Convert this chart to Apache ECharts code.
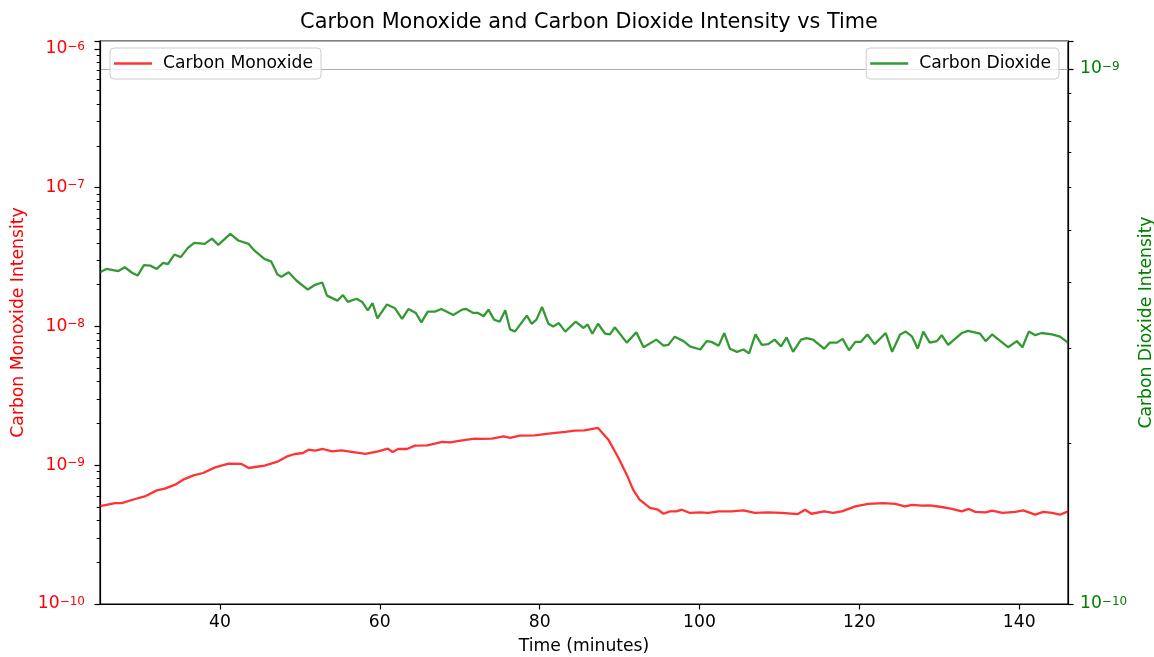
<!DOCTYPE html>
<html>
<head>
<meta charset="utf-8">
<script src="https://cdn.jsdelivr.net/npm/echarts@6/dist/echarts.min.js"></script>
<style>html,body{margin:0;padding:0;background:#fff}#c{width:1154px;height:657px}</style>
</head>
<body>
<div id="c"></div>
<script>
const coTime = [25.0,26.9,27.7,29.4,30.6,32.1,33.1,34.4,35.4,36.7,37.9,39.4,41.1,42.7,43.6,44.4,45.6,47.3,48.4,49.4,50.4,51.1,51.9,52.9,54.0,55.2,56.9,58.2,59.8,61.0,61.6,62.3,63.4,64.4,65.9,66.9,67.8,68.8,70.3,71.9,72.8,74.0,75.5,76.3,77.5,79.4,81.1,83.2,84.4,85.6,87.3,87.5,88.6,89.8,90.9,91.7,92.5,93.8,94.8,95.5,96.3,97.1,97.8,98.8,100.1,101.1,102.4,104.0,105.5,106.9,108.6,110.3,112.3,113.2,114.0,115.6,116.7,117.8,119.5,121.1,123.0,124.5,125.7,126.6,127.8,128.8,130.3,131.6,132.8,133.7,134.5,135.8,136.6,137.9,139.5,140.5,142.0,143.0,144.1,145.1,146.1];
const coValues = [5.08e-10,5.34e-10,5.34e-10,5.71e-10,5.96e-10,6.59e-10,6.78e-10,7.24e-10,7.87e-10,8.45e-10,8.79e-10,9.65e-10,1.026e-9,1.021e-9,9.55e-10,9.71e-10,9.93e-10,1.066e-9,1.158e-9,1.205e-9,1.225e-9,1.294e-9,1.273e-9,1.309e-9,1.258e-9,1.279e-9,1.238e-9,1.205e-9,1.258e-9,1.316e-9,1.246e-9,1.309e-9,1.309e-9,1.383e-9,1.390e-9,1.430e-9,1.471e-9,1.461e-9,1.511e-9,1.554e-9,1.547e-9,1.554e-9,1.614e-9,1.572e-9,1.633e-9,1.641e-9,1.688e-9,1.736e-9,1.774e-9,1.782e-9,1.855e-9,1.824e-9,1.528e-9,1.147e-9,8.55e-10,6.66e-10,5.65e-10,4.92e-10,4.78e-10,4.47e-10,4.65e-10,4.65e-10,4.78e-10,4.53e-10,4.57e-10,4.53e-10,4.65e-10,4.65e-10,4.73e-10,4.53e-10,4.57e-10,4.53e-10,4.45e-10,4.78e-10,4.47e-10,4.65e-10,4.53e-10,4.65e-10,5.05e-10,5.26e-10,5.34e-10,5.26e-10,5.05e-10,5.18e-10,5.11e-10,5.13e-10,5.00e-10,4.84e-10,4.65e-10,4.84e-10,4.61e-10,4.57e-10,4.70e-10,4.53e-10,4.61e-10,4.73e-10,4.40e-10,4.61e-10,4.53e-10,4.40e-10,4.65e-10];
const co2Time = [25.0,25.8,27.3,28.1,29.0,29.7,30.5,31.3,32.1,32.9,33.5,34.3,35.1,36.0,36.8,38.1,39.0,39.8,41.3,42.3,43.6,44.3,45.6,46.4,47.2,47.7,48.6,49.6,51.0,51.9,52.8,53.4,54.7,55.4,56.0,57.1,57.8,58.5,59.1,59.7,60.9,61.9,62.8,63.6,64.5,65.2,66.0,66.9,67.7,69.2,70.3,70.8,71.7,72.3,73.0,73.6,74.3,75.0,75.7,76.3,76.9,78.4,79.0,79.6,80.3,81.1,81.7,82.4,83.2,84.5,85.5,86.0,86.6,87.3,88.2,88.8,89.4,90.9,92.1,93.0,94.6,95.5,96.1,96.9,98.0,98.8,100.1,100.9,101.5,102.4,103.1,103.8,104.7,105.5,106.2,107.0,107.8,108.6,109.4,110.2,110.9,111.7,112.7,113.4,114.2,115.6,116.3,117.2,117.9,118.7,119.5,120.2,121.0,121.9,123.3,124.1,125.1,125.8,126.6,127.3,128.0,128.8,129.7,130.3,131.1,132.8,133.6,135.1,135.8,136.6,137.3,138.6,139.7,140.4,141.2,142.0,142.8,144.1,145.1,146.1];
const co2Values = [4.17e-10,4.23e-10,4.19e-10,4.26e-10,4.16e-10,4.11e-10,4.30e-10,4.29e-10,4.23e-10,4.34e-10,4.32e-10,4.50e-10,4.45e-10,4.63e-10,4.73e-10,4.71e-10,4.82e-10,4.69e-10,4.92e-10,4.78e-10,4.71e-10,4.58e-10,4.41e-10,4.37e-10,4.13e-10,4.09e-10,4.17e-10,4.02e-10,3.87e-10,3.95e-10,3.99e-10,3.77e-10,3.69e-10,3.78e-10,3.67e-10,3.72e-10,3.67e-10,3.54e-10,3.65e-10,3.42e-10,3.63e-10,3.57e-10,3.41e-10,3.56e-10,3.50e-10,3.36e-10,3.52e-10,3.52e-10,3.56e-10,3.47e-10,3.55e-10,3.56e-10,3.50e-10,3.50e-10,3.45e-10,3.55e-10,3.40e-10,3.37e-10,3.54e-10,3.26e-10,3.23e-10,3.46e-10,3.34e-10,3.40e-10,3.59e-10,3.34e-10,3.30e-10,3.35e-10,3.23e-10,3.37e-10,3.28e-10,3.33e-10,3.20e-10,3.34e-10,3.20e-10,3.19e-10,3.29e-10,3.08e-10,3.22e-10,3.02e-10,3.12e-10,3.04e-10,3.05e-10,3.16e-10,3.10e-10,3.03e-10,2.99e-10,3.10e-10,3.09e-10,3.04e-10,3.21e-10,3.00e-10,2.96e-10,2.99e-10,2.94e-10,3.19e-10,3.05e-10,3.06e-10,3.12e-10,3.03e-10,3.15e-10,2.96e-10,3.12e-10,3.14e-10,3.12e-10,3.00e-10,3.08e-10,3.08e-10,3.13e-10,2.98e-10,3.09e-10,3.09e-10,3.19e-10,3.06e-10,3.21e-10,2.96e-10,3.19e-10,3.23e-10,3.16e-10,3.00e-10,3.23e-10,3.08e-10,3.10e-10,3.18e-10,3.05e-10,3.21e-10,3.24e-10,3.20e-10,3.10e-10,3.19e-10,3.13e-10,3.02e-10,3.10e-10,3.02e-10,3.23e-10,3.18e-10,3.21e-10,3.19e-10,3.16e-10,3.08e-10];
const xTicks = [40, 60, 80, 100, 120, 140];

const FONT = 'DejaVu Sans';
const FS = 17.2;
const chart = echarts.init(document.getElementById('c'), null, {renderer: 'canvas'});

function powLabel(v) {
  const e = Math.log10(v);
  const r = Math.round(e);
  if (Math.abs(e - r) > 1e-6) return '';
  return '{b|10}{s|' + (r < 0 ? '\u2212' : '') + Math.abs(r) + '}';
}
function rich(color) {
  return {
    b: {fontSize: FS, fontFamily: FONT, color: color, verticalAlign: 'bottom'},
    s: {fontSize: 12, fontFamily: FONT, color: color, verticalAlign: 'top'}
  };
}

const option = {
  animation: false,
  backgroundColor: '#ffffff',
  title: {
    text: 'Carbon Monoxide and Carbon Dioxide Intensity vs Time',
    left: 584, top: 7, textAlign: 'center',
    textStyle: {fontFamily: FONT, fontSize: 20.8, fontWeight: 'normal', color: '#000'}
  },
  grid: {left: 100, right: 86, top: 41, bottom: 53, show: true, borderColor: '#000', borderWidth: 1.2, backgroundColor: 'transparent', containLabel: false, outerBoundsMode: 'none'},
  legend: [
    {
      data: ['Carbon Monoxide'], left: 110, top: 48,
      padding: [7, 8, 7, 4], itemWidth: 38, itemHeight: 2.5, icon: 'rect',
      backgroundColor: 'rgba(255,255,255,0.8)', borderColor: '#cccccc', borderWidth: 1, borderRadius: 4,
      textStyle: {fontFamily: FONT, fontSize: FS, color: '#000', padding: [0, 0, 0, 6]}
    },
    {
      data: ['Carbon Dioxide'], right: 95, top: 48,
      padding: [7, 8, 7, 4], itemWidth: 38, itemHeight: 2.5, icon: 'rect',
      backgroundColor: 'rgba(255,255,255,0.8)', borderColor: '#cccccc', borderWidth: 1, borderRadius: 4,
      textStyle: {fontFamily: FONT, fontSize: FS, color: '#000', padding: [0, 0, 0, 6]}
    }
  ],
  xAxis: {
    type: 'value', min: 25, max: 146.1,
    name: 'Time (minutes)', nameLocation: 'middle', nameGap: 34,
    nameTextStyle: {fontFamily: FONT, fontSize: FS, color: '#000'},
    axisLine: {show: true, lineStyle: {color: '#000', width: 1.2}},
    axisTick: {show: true, length: 5.5, lineStyle: {color: '#000', width: 1.2}, customValues: xTicks},
    axisLabel: {fontFamily: FONT, fontSize: FS, color: '#000', margin: 10, customValues: xTicks},
    splitLine: {show: false}
  },
  yAxis: [
    {
      type: 'log', logBase: 10, min: 1e-10, max: 1.14e-6, position: 'left',
      name: 'Carbon Monoxide Intensity', nameLocation: 'middle', nameRotate: 90, nameGap: 73,
      nameTextStyle: {fontFamily: FONT, fontSize: FS, color: 'red'},
      axisLine: {show: true, lineStyle: {color: '#000', width: 1.2}},
      axisTick: {show: true, length: 5.5, lineStyle: {color: '#000', width: 1.2}},
      minorTick: {show: true, splitNumber: 9, length: 3.3, lineStyle: {color: '#000', width: 1}},
      axisLabel: {formatter: powLabel, rich: rich('red'), margin: 15, color: 'red'},
      splitLine: {show: false}
    },
    {
      type: 'log', logBase: 10, min: 1e-10, max: 1.128e-9, position: 'right',
      name: 'Carbon Dioxide Intensity', nameLocation: 'middle', nameRotate: 90, nameGap: 66,
      nameTextStyle: {fontFamily: FONT, fontSize: FS, color: 'green'},
      axisLine: {show: true, lineStyle: {color: '#000', width: 1.2}},
      axisTick: {show: true, length: 5.5, lineStyle: {color: '#000', width: 1.2}},
      minorTick: {show: true, splitNumber: 9, length: 3.3, lineStyle: {color: '#000', width: 1}},
      axisLabel: {formatter: powLabel, rich: rich('green'), margin: 12, color: 'green'},
      splitLine: {show: true, lineStyle: {color: '#b0b0b0', width: 1.2}}
    }
  ],
  series: [
    {
      name: 'Carbon Monoxide', type: 'line', yAxisIndex: 0, showSymbol: false, symbol: 'none',
      data: coTime.map((t, i) => [t, coValues[i]]),
      itemStyle: {color: 'rgba(255,0,0,0.8)'},
      lineStyle: {color: 'rgba(255,0,0,0.8)', width: 2.3}
    },
    {
      name: 'Carbon Dioxide', type: 'line', yAxisIndex: 1, showSymbol: false, symbol: 'none',
      data: co2Time.map((t, i) => [t, co2Values[i]]),
      itemStyle: {color: 'rgba(0,128,0,0.8)'},
      lineStyle: {color: 'rgba(0,128,0,0.8)', width: 2.3}
    }
  ]
};
chart.setOption(option);
</script>
</body>
</html>
